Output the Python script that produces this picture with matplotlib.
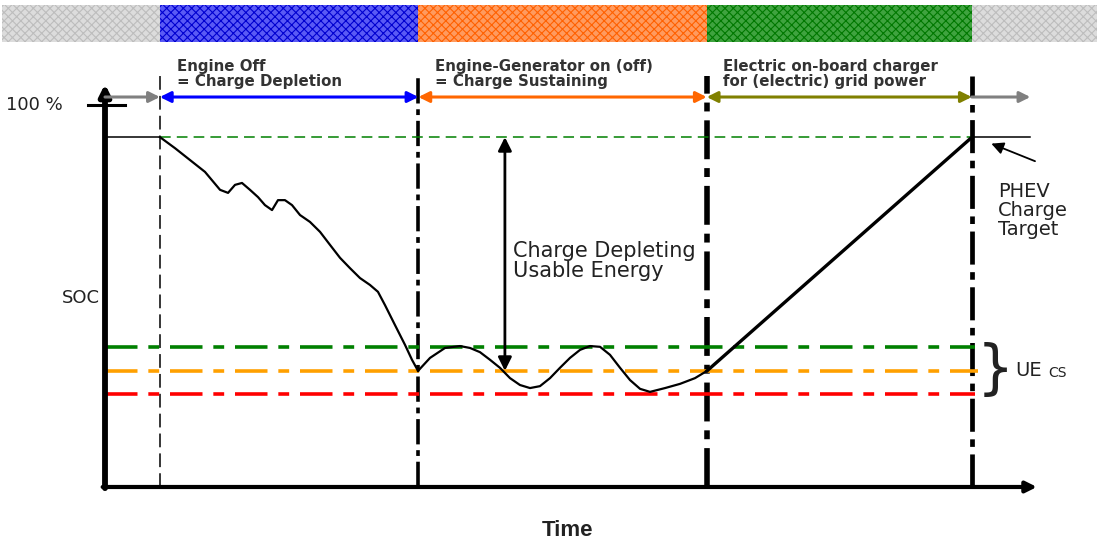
import matplotlib
matplotlib.use('Agg')
import matplotlib.pyplot as plt

# phase boundaries on the time axis (0..100) and SOC levels (%)
phase_t = [5.9, 33.7, 64.7, 93.2]
phase_labels = ["Engine Off\n= Charge Depletion",
                "Engine-Generator on (off)\n= Charge Sustaining",
                "Electric on-board charger\nfor (electric) grid power"]
phase_colors = ['#0000ff', '#ff6600', '#808000']
band_colors = ['#dcdcdc', '#5a5af5', '#ff9a5e', '#3fa33f', '#dcdcdc']
band_hatch = ['#bdbdbd', '#0000d0', '#ff6000', '#007800', '#bdbdbd']

soc_target = 91.6
soc_green = 36.6
soc_orange = 30.4
soc_red = 24.35

# SOC trace: depletion then sustaining, then charging
cd_t = [5.91, 7.53, 9.14, 10.75, 12.37, 13.23, 13.98, 14.73, 15.59, 16.45, 17.20, 17.96,
        18.60, 19.35, 20.11, 20.97, 22.04, 23.12, 24.19, 25.27, 26.34, 27.42, 28.49,
        29.35, 30.11, 31.18, 32.26, 33.01, 33.66]
cd_soc = [91.6, 88.7, 85.6, 82.5, 77.8, 77.0, 79.1, 79.6, 77.8, 75.9, 73.8, 72.5,
          75.1, 75.1, 73.8, 71.2, 69.4, 66.8, 63.4, 60.0, 57.3, 54.7, 52.9,
          51.1, 47.6, 42.4, 37.2, 33.3, 30.4]
cs_t = [33.66, 34.95, 36.56, 38.17, 39.25, 40.32, 41.40, 42.47, 43.55, 44.62, 45.70,
        46.77, 47.85, 48.92, 50.00, 51.08, 52.15, 53.23, 54.30, 55.38, 56.45, 57.53,
        58.60, 60.22, 61.83, 63.44, 64.73]
cs_soc = [30.4, 33.8, 36.4, 36.9, 36.4, 35.3, 33.3, 31.2, 28.5, 26.7, 25.9,
          26.4, 28.5, 31.2, 33.8, 35.9, 36.9, 36.7, 34.6, 31.2, 28.0, 25.7,
          24.9, 25.9, 27.0, 28.5, 30.4]
chg_t = [64.73, 93.23]
chg_soc = [30.4, 91.6]

plt.rcParams['hatch.linewidth'] = 0.8

fig = plt.figure(figsize=(10.99, 5.46), dpi=100)
ax = fig.add_axes([0, 0, 1, 1])
ax.set_xlim(-11.29, 106.88)
ax.set_ylim(-15.45, 127.5)
ax.axis('off')

# patterned band at the top
edges = [-11.1] + phase_t + [106.7]
for i in range(5):
    ax.fill_between([edges[i], edges[i + 1]], 116.5, 126.2, facecolor=band_colors[i],
                    edgecolor=band_hatch[i], hatch='xxxx', linewidth=0)

# axes with arrows
ax.annotate('', xy=(0, 105.5), xytext=(0, -0.3),
            arrowprops=dict(arrowstyle='-|>', lw=4.2, color='k', mutation_scale=16,
                            shrinkA=0, shrinkB=0))
ax.annotate('', xy=(100.2, 0), xytext=(-0.25, 0),
            arrowprops=dict(arrowstyle='-|>', lw=3, color='k', mutation_scale=16,
                            shrinkA=0, shrinkB=0))
ax.plot([-1.8, 2.15], [100, 100], color='k', lw=2.2)
ax.text(-7.6, 100, "100 %", fontsize=13, ha='center', va='center',
        family='DejaVu Sans', color='#222222')
ax.text(-0.6, 49.5, "SOC", fontsize=13, ha='right', va='center',
        family='DejaVu Sans', color='#222222')
ax.text(49.7, -11.5, "Time", fontsize=16, ha='center', va='center',
        family='Liberation Sans', weight='bold', color='#222222')

# vertical phase markers
ax.plot([phase_t[0]] * 2, [0, 107.5], color='k', lw=1.1, dashes=(9, 4))
for t, lw in zip(phase_t[1:], [2.6, 4.0, 3.4]):
    ax.plot([t, t], [0, 107.5], color='k', lw=lw, dashes=(7, 1.6, 1.6, 1.6))

# phase arrows and labels
arrow_y = 102.1
ax.annotate('', xy=(phase_t[0], arrow_y), xytext=(0, arrow_y),
            arrowprops=dict(arrowstyle='-|>', lw=2.2, color='#808080', mutation_scale=16,
                            shrinkA=0, shrinkB=0))
for i in range(3):
    ax.annotate('', xy=(phase_t[i + 1], arrow_y), xytext=(phase_t[i], arrow_y),
                arrowprops=dict(arrowstyle='<|-|>', lw=2.2, color=phase_colors[i],
                                mutation_scale=16, shrinkA=0, shrinkB=0))
    ax.text(phase_t[i] + 1.8, 104.3, phase_labels[i], fontsize=10.8, weight='bold',
            family='DejaVu Sans', color='#333333', ha='left', va='bottom',
            linespacing=1.0)
ax.annotate('', xy=(99.5, arrow_y), xytext=(phase_t[3], arrow_y),
            arrowprops=dict(arrowstyle='-|>', lw=2.2, color='#808080', mutation_scale=16,
                            shrinkA=0, shrinkB=0))

# target and charge-sustaining levels
ax.plot([0, phase_t[0]], [soc_target] * 2, color='k', lw=1.1)
ax.plot([phase_t[3], 99.5], [soc_target] * 2, color='k', lw=1.1)
ax.plot([phase_t[0], phase_t[3]], [soc_target] * 2, color='#008000', lw=1.1, dashes=(7, 4))
ax.plot([0, 93.5], [soc_green] * 2, color='#008000', lw=2.6, dashes=(9, 3, 3, 3))
ax.plot([0, 93.9], [soc_orange] * 2, color='#ffa000', lw=2.6, dashes=(9, 3, 3, 3))
ax.plot([0, 93.5], [soc_red] * 2, color='#ff0000', lw=2.6, dashes=(9, 3, 3, 3))

# SOC trace
ax.plot(cd_t, cd_soc, color='k', lw=1.6)
ax.plot(cs_t, cs_soc, color='k', lw=1.6)
ax.plot(chg_t, chg_soc, color='k', lw=2.4)

# usable energy arrow
ax.annotate('', xy=(43.0, soc_orange), xytext=(43.0, soc_target),
            arrowprops=dict(arrowstyle='<|-|>', lw=2.0, color='k', mutation_scale=20,
                            shrinkA=0, shrinkB=0))
ax.text(43.9, 59.2, "Charge Depleting\nUsable Energy", fontsize=15, family='DejaVu Sans',
        color='#222222', ha='left', va='center', linespacing=1.0)

# PHEV charge target note
ax.annotate('', xy=(95.3, 89.9), xytext=(100.0, 85.3),
            arrowprops=dict(arrowstyle='-|>', lw=1.3, color='k', mutation_scale=18,
                            shrinkA=0, shrinkB=0))
ax.text(96.0, 72.3, "PHEV\nCharge\nTarget", fontsize=14, family='DejaVu Sans',
        color='#222222', ha='left', va='center', linespacing=1.0)

# UE_CS brace
ax.text(93.7, 30.4, "}", fontsize=42, family='DejaVu Sans', color='#222222',
        ha='left', va='center')
ax.text(97.9, 30.4, "UE", fontsize=14, family='DejaVu Sans', color='#222222',
        ha='left', va='center')
ax.text(101.4, 29.8, "CS", fontsize=10, family='DejaVu Sans', color='#222222',
        ha='left', va='center')

fig.savefig('out.png', dpi=100)
